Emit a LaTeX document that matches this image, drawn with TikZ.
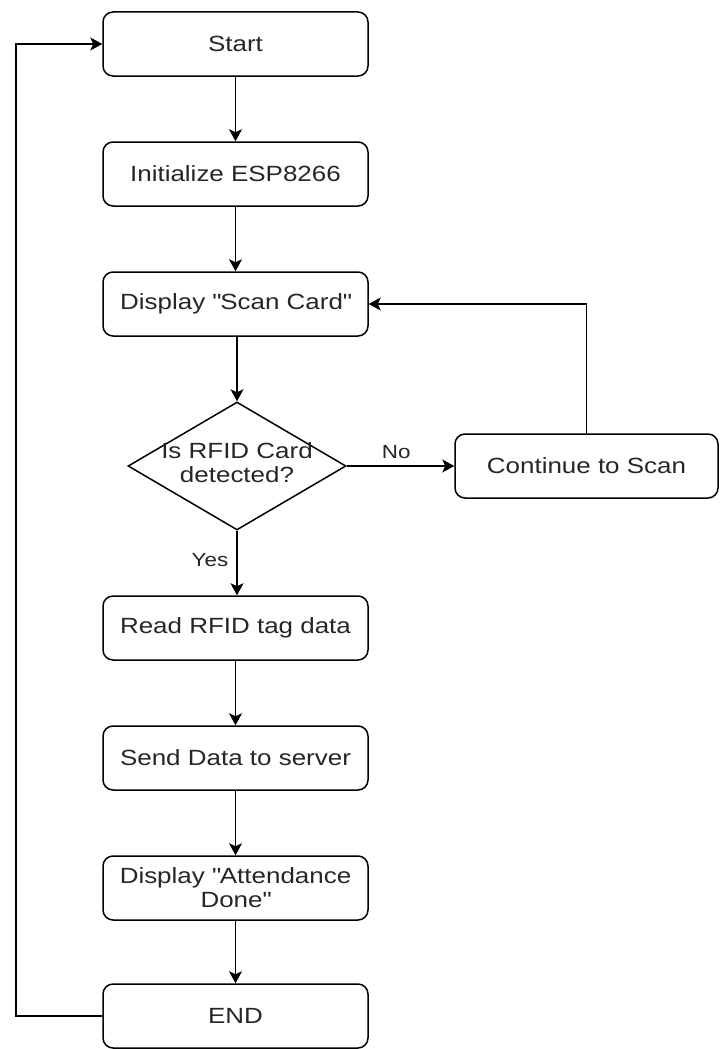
\documentclass[tikz,border=0pt]{standalone}
\usepackage{fontspec}
\setmainfont{Liberation Sans}[FakeStretch=1.18]
\usetikzlibrary{arrows.meta,shapes.geometric}
\begin{document}
\begin{tikzpicture}[x=1pt,y=-1pt,
  box/.style={draw=black, rounded corners=10pt, minimum width=265pt, minimum height=64pt,
    inner sep=0pt, align=center, text=black!85, font=\fontsize{22}{24}\selectfont, line width=1.5pt},
  dia/.style={draw=black, diamond, minimum width=218pt, minimum height=128pt, inner sep=0pt, line width=1.5pt},
  dtext/.style={align=center, text=black!85, inner sep=0pt, font=\fontsize{22}{24}\selectfont},
  lbl/.style={text=black!85, inner sep=0pt, font=\fontsize{19}{22}\selectfont},
  conn/.style={draw=black, line width=1.5pt, -{Stealth[length=12pt,width=13pt,inset=3pt]}},
  plain/.style={draw=black, line width=1.5pt}
]
\fill[white] (0,0) rectangle (724,1049);
\useasboundingbox (0,0) rectangle (724,1049);

\node[box] (start) at (235.5,44) {Start};
\node[box] (init) at (235.5,174) {Initialize ESP8266};
\node[box] (disp) at (235.5,304) {Display \textquotedbl Scan Card\textquotedbl};
\node[dia] (d) at (237,466) {};
\node[dtext] (dt) at (237,463) {Is RFID Card\\detected?};
\node[box, minimum width=263pt] (cont) at (586.5,466) {Continue to Scan};
\node[box] (read) at (235.5,628) {Read RFID tag data};
\node[box] (send) at (235.5,758) {Send Data to server};
\node[box] (att) at (235.5,888) {Display \textquotedbl Attendance\\Done\textquotedbl};
\node[box] (end) at (235.5,1016) {END};
\coordinate (loop) at (16,44);

\draw[conn] (start) -- (init);
\draw[conn] (init) -- (disp);
\draw[conn] (disp.south -| d.north) -- (d.north);
\draw[conn] (d.east) -- node[lbl, pos=0.46, yshift=14pt] (no) {No} (cont.west);
\draw[conn] (d.south) -- node[lbl, pos=0.45, xshift=-27pt] (yes) {Yes} (read.north -| d.south);
\draw[conn] (cont.north) |- (disp.east);
\draw[conn] (read) -- (send);
\draw[conn] (send) -- (att);
\draw[conn] (att) -- (end);
\draw[conn] (end.west) -- (end.west -| loop) -- (loop) -- (start.west);
\end{tikzpicture}
\end{document}
